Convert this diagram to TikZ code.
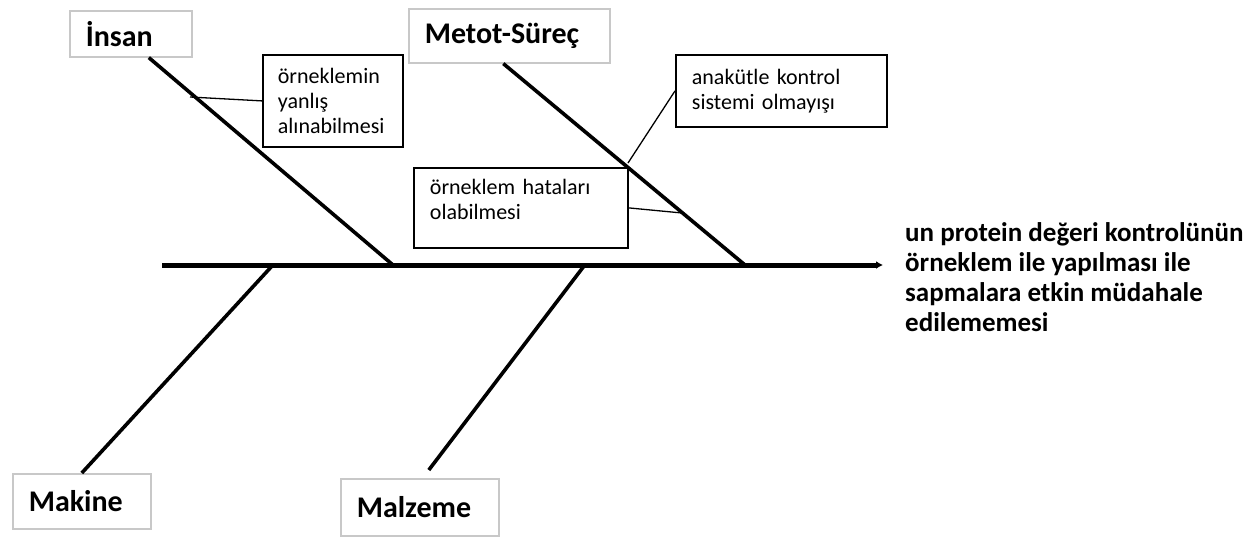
\documentclass[tikz,border=0pt]{standalone}
\usepackage{fontspec}
\setmainfont{Carlito}
\usetikzlibrary{arrows.meta,calc}
\definecolor{catgray}{RGB}{200,200,200}
\begin{document}
\begin{tikzpicture}[x=1pt,y=-1pt,
  category/.style={draw=catgray, line width=1.6pt, fill=white,
    font=\fontsize{30}{34}\selectfont\bfseries, align=left,
    inner xsep=16pt, inner ysep=0pt, anchor=north west},
  cause/.style={draw=black, line width=1.8pt, fill=white,
    font=\fontsize{22}{25}\selectfont, align=left,
    inner xsep=15pt, inner ysep=0pt, anchor=north west},
  effect/.style={font=\fontsize{27}{30}\selectfont\bfseries, align=left,
    inner sep=0pt, anchor=west},
  spine/.style={line width=5pt, -{Latex[length=7pt,width=8pt]}},
  bone/.style={line width=3.6pt},
  twig/.style={line width=1.3pt}
]
\useasboundingbox (0,0) rectangle (1252,536);

% main categories
\node[category, text width=90pt,  minimum height=46pt] (insan)   at (69,10)  {İnsan};
\node[category, text width=169pt, minimum height=54pt] (metot)   at (408,8)  {Metot-Süreç};
\node[category, text width=106pt, minimum height=55pt] (makine)  at (12,473) {Makine};
\node[category, text width=126pt, minimum height=57pt] (malzeme) at (340,478) {Malzeme};

% causes
\node[cause, text width=110pt, minimum height=92pt] (c1) at (262,54)
  {örneklemin\\yanlış\\alınabilmesi};
\node[cause, inner xsep=16pt, text width=179pt, minimum height=72pt] (c2) at (675,54)
  {anakütle kontrol\\sistemi olmayışı};
\node[cause, inner xsep=16pt, text width=182pt, minimum height=80pt, text depth=42pt] (c3) at (413,167)
  {örneklem hataları\\olabilmesi};

% effect
\node[effect] (effect) at (905,277)
  {un protein değeri kontrolünün\\örneklem ile yapılması ile\\sapmalara etkin müdahale\\edilememesi};

% spine
\coordinate (tail) at (162,265);
\coordinate (head) at (883,265);
\draw[spine] (tail) -- (head);

% bones meeting the spine
\coordinate (f-insan)   at (393,265);
\coordinate (f-metot)   at (745,265);
\coordinate (f-makine)  at (272,266);
\coordinate (f-malzeme) at (584,266);
\draw[bone] ([xshift=18pt]insan.south) -- (f-insan);
\draw[bone] ([xshift=-6pt]metot.south) -- (f-metot);
\draw[bone] (makine.north) -- (f-makine);
\draw[bone] ([shift={(9,-8)}]malzeme.north) -- (f-malzeme);

% twigs from the causes to their bones
\coordinate (t1) at (190,97);
\coordinate (t2) at (628,163);
\coordinate (t3) at (682,213);
\draw[twig] (c1.west) -- (t1);
\draw[twig] (c2.west) -- (t2);
\draw[twig] (c3.east) -- (t3);
\end{tikzpicture}
\end{document}
